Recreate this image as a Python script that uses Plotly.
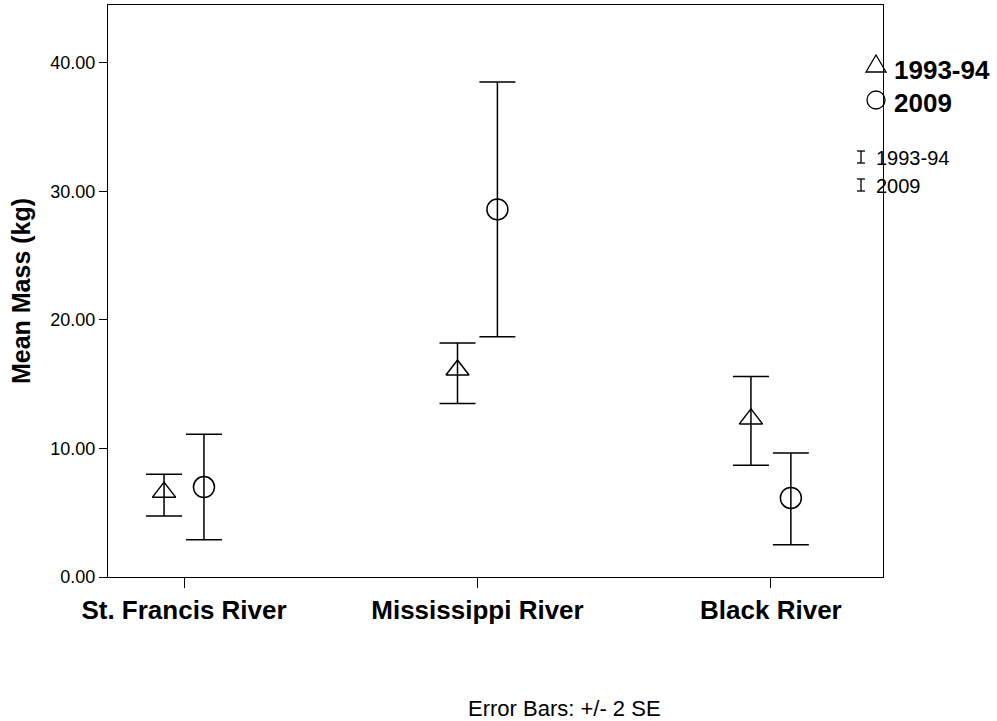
import plotly.graph_objects as go

# River sites (x-axis categories)
rivers = ["St. Francis River", "Mississippi River", "Black River"]

# Mean mass (kg) and +/- 2 SE bounds for each sampling period
mean_1993 = [6.6, 16.1, 12.3]
upper_1993 = [8.0, 18.2, 15.6]
lower_1993 = [4.75, 13.5, 8.7]

mean_2009 = [7.0, 28.6, 6.15]
upper_2009 = [11.1, 38.5, 9.65]
lower_2009 = [2.9, 18.7, 2.5]

y_ticks = [0, 10, 20, 30, 40]

FONT = "Liberation Sans, Arial, sans-serif"
offset = 0.068  # horizontal dodge between the two periods

pos = list(range(len(rivers)))


def err(mean, up, lo):
    return dict(
        type="data",
        symmetric=False,
        array=[u - m for u, m in zip(up, mean)],
        arrayminus=[m - l for m, l in zip(mean, lo)],
        color="black",
        thickness=1.5,
        width=18,
    )


fig = go.Figure()
fig.add_trace(go.Scatter(
    x=[p - offset for p in pos], y=mean_1993, mode="markers", name="1993-94",
    marker=dict(symbol="triangle-up-open", size=20, color="black",
                line=dict(width=1.5, color="black")),
    error_y=err(mean_1993, upper_1993, lower_1993),
    showlegend=False,
))
fig.add_trace(go.Scatter(
    x=[p + offset for p in pos], y=mean_2009, mode="markers", name="2009",
    marker=dict(symbol="circle-open", size=21, color="black",
                line=dict(width=1.5, color="black")),
    error_y=err(mean_2009, upper_2009, lower_2009),
    showlegend=False,
))

# plot-area geometry in pixels, used to place the legend outside the axes
L, R, T, B = 108, 114, 5, 144
W, H = 997, 721
pw, ph = W - L - R, H - T - B


def px(x):
    return (x - L) / pw


def py(y):
    return (H - B - y) / ph


shapes = []
annotations = []

# marker legend: open triangle and open circle with bold labels
shapes.append(dict(type="path", xref="paper", yref="paper",
                   path=f"M {px(866)},{py(72)} L {px(886)},{py(72)} L {px(876)},{py(55)} Z",
                   line=dict(color="black", width=1.3), fillcolor="rgba(0,0,0,0)"))
shapes.append(dict(type="circle", xref="paper", yref="paper",
                   x0=px(867), x1=px(885), y0=py(109), y1=py(91),
                   line=dict(color="black", width=1.3)))
for label, yc in [("1993-94", 70), ("2009", 103)]:
    annotations.append(dict(text=f"<b>{label}</b>", xref="paper", yref="paper",
                            x=px(892), y=py(yc), xanchor="left", yanchor="middle",
                            showarrow=False, font=dict(family=FONT, size=26, color="black")))

# error-bar legend: small I-beam glyphs with plain labels
for label, yc in [("1993-94", 157), ("2009", 185)]:
    shapes.append(dict(type="line", xref="paper", yref="paper",
                       x0=px(861), x1=px(861), y0=py(yc - 6), y1=py(yc + 6),
                       line=dict(color="black", width=1.3)))
    for yy in (yc - 6, yc + 6):
        shapes.append(dict(type="line", xref="paper", yref="paper",
                           x0=px(857), x1=px(865), y0=py(yy), y1=py(yy),
                           line=dict(color="black", width=1.3)))
    annotations.append(dict(text=label, xref="paper", yref="paper",
                            x=px(874), y=py(yc + 1), xanchor="left", yanchor="middle",
                            showarrow=False, font=dict(family=FONT, size=20, color="black")))

annotations.append(dict(text="Error Bars: +/- 2 SE", xref="paper", yref="paper",
                        x=px(564), y=py(708), xanchor="center", yanchor="middle",
                        showarrow=False, font=dict(family=FONT, size=22, color="black")))

fig.update_layout(
    width=W, height=H,
    margin=dict(l=L, r=R, t=T, b=B),
    paper_bgcolor="white", plot_bgcolor="white",
    font=dict(family=FONT, color="black"),
    shapes=shapes, annotations=annotations,
    xaxis=dict(
        range=[-0.259, 2.382], tickmode="array", tickvals=pos,
        ticktext=[f"<b>{r}</b>" for r in rivers],
        ticks="outside", ticklen=10, tickwidth=1.3, tickcolor="black",
        showline=True, linecolor="black", linewidth=1.3, mirror=True,
        showgrid=False, zeroline=False,
        tickfont=dict(family=FONT, size=26, color="black"),
    ),
    yaxis=dict(
        range=[0, 44.5], tickmode="array", tickvals=y_ticks,
        ticktext=[f"{v:.2f}" for v in y_ticks],
        ticks="outside", ticklen=8, tickwidth=1.3, tickcolor="black",
        showline=True, linecolor="black", linewidth=1.3, mirror=True,
        showgrid=False, zeroline=False,
        tickfont=dict(family=FONT, size=18, color="black"),
        title=dict(text="<b>Mean Mass (kg)</b>", font=dict(family=FONT, size=25, color="black"),
                   standoff=12),
    ),
)

fig.write_html("out.html")
